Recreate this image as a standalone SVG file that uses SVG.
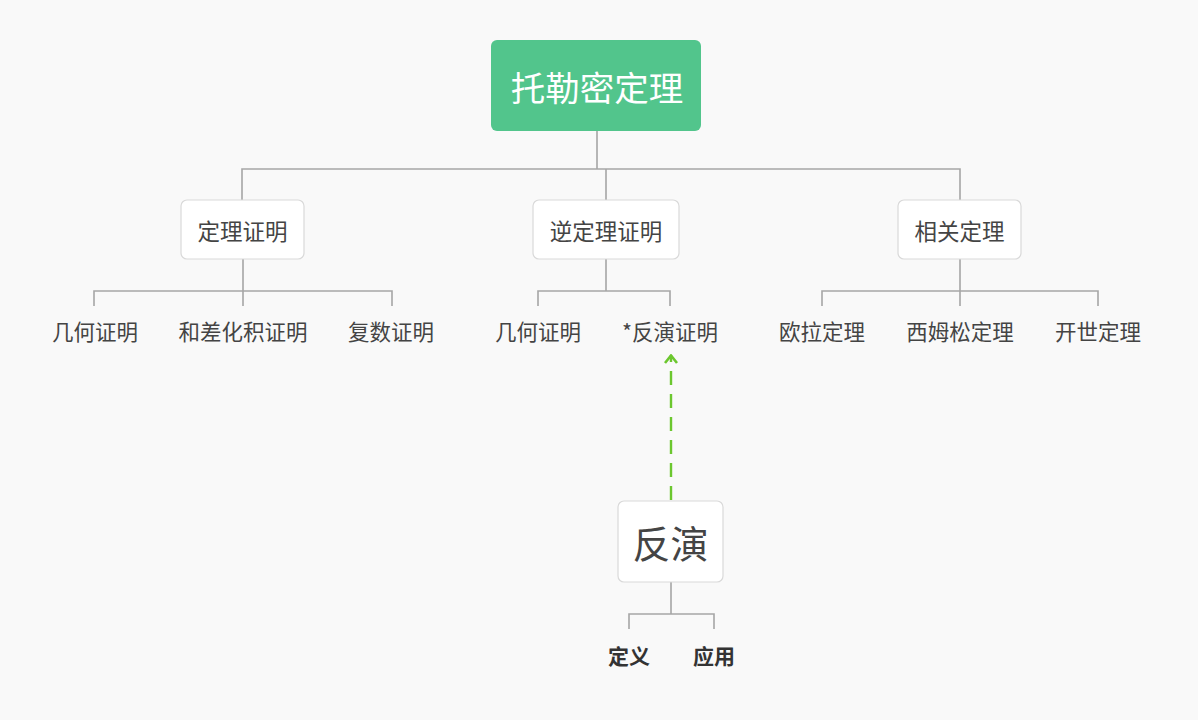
<svg xmlns="http://www.w3.org/2000/svg" width="1198" height="720" viewBox="0 0 1198 720">
<defs>
<style>
text{font-family:"Noto Sans CJK SC","Noto Sans",sans-serif;text-anchor:middle;fill:#444}
.box{fill:#fff;stroke:#d9d9d9;stroke-width:1.2}
.l1{font-size:22.5px}
.leaf{font-size:21.5px}
.bold{font-size:21px;font-weight:bold;fill:#333}
.conn{fill:none;stroke:#a6a6a6;stroke-width:1.6}
</style>
<marker id="chev" viewBox="0 0 10 15" refX="9" refY="7.5" markerWidth="10" markerHeight="15" markerUnits="userSpaceOnUse" orient="auto">
<path d="M1,1.5 L8.5,7.5 L1,13.5" fill="none" stroke="#6cc72f" stroke-width="2.6"/>
</marker>
</defs>
<rect width="1198" height="720" fill="#f9f9f9"/>
<g id="connectors">
<path class="conn" d="M597,131 V169 M242,200 V169 H960 V200 M606,169 V200"/>
<path class="conn" d="M243,259 V291 M94,306 V291 H392 V306 M243,291 V306"/>
<path class="conn" d="M606,259 V291 M538,306 V291 H670 V306"/>
<path class="conn" d="M960,259 V291 M822,306 V291 H1098 V306 M960,291 V306"/>
<path class="conn" d="M671,582 V614 M629,629 V614 H714 V629"/>
<path d="M671,500 V355" fill="none" stroke="#6cc72f" stroke-width="2.4" stroke-dasharray="14 9" marker-end="url(#chev)"/>
</g>
<g id="root">
<rect x="491" y="40" width="210" height="91" rx="6" fill="#52c58c"/>
<text x="597" y="101" style="font-size:34.5px;fill:#fff">托勒密定理</text>
</g>
<g id="n-dinglizhengming">
<rect class="box" x="181" y="200" width="123" height="59" rx="6"/>
<text class="l1" x="242.5" y="240">定理证明</text>
</g>
<g id="n-nidingli">
<rect class="box" x="533" y="200" width="146" height="59" rx="6"/>
<text class="l1" x="606" y="240">逆定理证明</text>
</g>
<g id="n-xiangguan">
<rect class="box" x="898" y="200" width="123" height="59" rx="6"/>
<text class="l1" x="959.5" y="240">相关定理</text>
</g>
<g id="leaf-1"><text class="leaf" x="95" y="340">几何证明</text></g>
<g id="leaf-2"><text class="leaf" x="243" y="340">和差化积证明</text></g>
<g id="leaf-3"><text class="leaf" x="391" y="340">复数证明</text></g>
<g id="leaf-4"><text class="leaf" x="538" y="340">几何证明</text></g>
<g id="leaf-5"><text class="leaf" x="670" y="340">*反演证明</text></g>
<g id="leaf-6"><text class="leaf" x="822" y="340">欧拉定理</text></g>
<g id="leaf-7"><text class="leaf" x="960" y="340">西姆松定理</text></g>
<g id="leaf-8"><text class="leaf" x="1098" y="340">开世定理</text></g>
<g id="n-fanyan">
<rect class="box" x="618" y="501" width="105" height="81" rx="6"/>
<text x="670.5" y="558" style="font-size:38px">反演</text>
</g>
<g id="leaf-9"><text class="bold" x="629" y="664">定义</text></g>
<g id="leaf-10"><text class="bold" x="714" y="664">应用</text></g>
</svg>
